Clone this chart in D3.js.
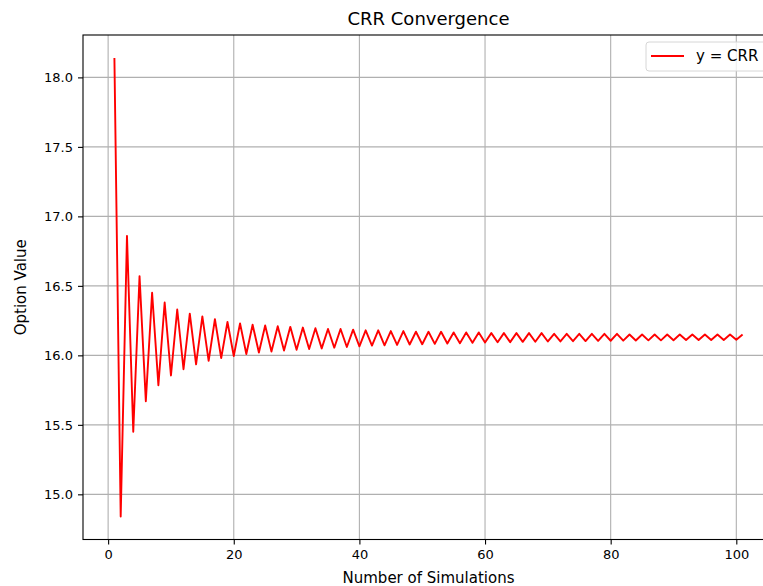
<!DOCTYPE html>
<html>
<head>
<meta charset="utf-8">
<script src="https://cdn.jsdelivr.net/npm/d3@7"></script>
<style>
  html, body { margin: 0; padding: 0; background: #fff; overflow: hidden; }
  svg { display: block; }
  text { font-family: "DejaVu Sans", sans-serif; }
</style>
</head>
<body>
<svg id="chart" width="763" height="586"></svg>
<script>
// Number of steps (simulations)
const steps = d3.range(1, 102);
// Option values (odd steps high, even steps low)
const optionValues = [
  18.14, 14.84, 16.86, 15.45, 16.57, 15.67, 16.45, 15.785, 16.38, 15.855,
  16.33, 15.90, 16.30, 15.935, 16.28, 15.96, 16.26, 15.98, 16.24, 15.995,
  16.23, 16.01, 16.22, 16.02, 16.215, 16.027, 16.21, 16.035, 16.205, 16.04,
  16.20, 16.045, 16.195, 16.05, 16.19, 16.055, 16.19, 16.06, 16.185, 16.065,
  16.18, 16.07, 16.18, 16.072, 16.175, 16.075, 16.175, 16.078, 16.17, 16.08,
  16.17, 16.083, 16.17, 16.085, 16.165, 16.087, 16.165, 16.09, 16.165, 16.092,
  16.16, 16.094, 16.16, 16.095, 16.16, 16.097, 16.16, 16.098, 16.16, 16.10,
  16.155, 16.10, 16.155, 16.102, 16.155, 16.103, 16.155, 16.104, 16.155, 16.105,
  16.155, 16.106, 16.15, 16.107, 16.15, 16.108, 16.15, 16.108, 16.15, 16.109,
  16.15, 16.11, 16.15, 16.11, 16.15, 16.11, 16.15, 16.111, 16.15, 16.112,
  16.15
];
const xTicks = [0, 20, 40, 60, 80, 100];
const yTicks = [15.0, 15.5, 16.0, 16.5, 17.0, 17.5, 18.0];
const seriesLabel = "y = CRR";
const titleText = "CRR Convergence";
const xLabel = "Number of Simulations";
const yLabel = "Option Value";

const data = steps.map((s, i) => ({ x: s, y: optionValues[i] }));

const svg = d3.select("#chart");
const pLeft = 83, pRight = 774, pTop = 35, pBottom = 539.5;

const xPad = (d3.max(steps) - d3.min(steps)) * 0.05;
const x = d3.scaleLinear()
  .domain([d3.min(steps) - xPad, d3.max(steps) + xPad])
  .range([pLeft, pRight]);
const [ymin, ymax] = d3.extent(optionValues);
const yPad = (ymax - ymin) * 0.05;
const y = d3.scaleLinear()
  .domain([ymin - yPad, ymax + yPad])
  .range([pBottom, pTop]);

// grid
const g = svg.append("g");
g.selectAll("line.vg").data(xTicks).enter().append("line")
  .attr("x1", d => x(d)).attr("x2", d => x(d))
  .attr("y1", pTop).attr("y2", pBottom)
  .attr("stroke", "#b0b0b0").attr("stroke-width", 1.1);
g.selectAll("line.hg").data(yTicks).enter().append("line")
  .attr("x1", pLeft).attr("x2", pRight)
  .attr("y1", d => y(d)).attr("y2", d => y(d))
  .attr("stroke", "#b0b0b0").attr("stroke-width", 1.1);

// line
const line = d3.line().x(d => x(d.x)).y(d => y(d.y));
svg.append("path").datum(data)
  .attr("d", line)
  .attr("fill", "none")
  .attr("stroke", "#ff0000")
  .attr("stroke-width", 1.9)
  .attr("stroke-linejoin", "round");

// axes
const fs = 13;
const lfs = 15;
const xAxis = d3.axisBottom(x).tickValues(xTicks).tickSize(5).tickPadding(5).tickFormat(d3.format("d"));
const yAxis = d3.axisLeft(y).tickValues(yTicks).tickSize(5).tickPadding(5).tickFormat(d3.format(".1f"));
const gx = svg.append("g").attr("transform", `translate(0,${pBottom})`).call(xAxis);
const gy = svg.append("g").attr("transform", `translate(${pLeft},0)`).call(yAxis);
[gx, gy].forEach(a => {
  a.select(".domain").remove();
  a.selectAll(".tick line").attr("stroke", "#000").attr("stroke-width", 1.1);
  a.selectAll(".tick text").attr("fill", "#000").style("font-size", fs + "px").style("font-family", "DejaVu Sans");
});

// spines
svg.append("rect")
  .attr("x", pLeft).attr("y", pTop)
  .attr("width", pRight - pLeft).attr("height", pBottom - pTop)
  .attr("fill", "none").attr("stroke", "#000").attr("stroke-width", 1.1);

// title & labels
svg.append("text").attr("x", (pLeft + pRight) / 2).attr("y", 25)
  .attr("text-anchor", "middle").style("font-size", "18px").text(titleText);
svg.append("text").attr("x", (pLeft + pRight) / 2).attr("y", 583)
  .attr("text-anchor", "middle").style("font-size", lfs + "px").text(xLabel);
svg.append("text")
  .attr("transform", `translate(26,${(pTop + pBottom) / 2}) rotate(-90)`)
  .attr("text-anchor", "middle").style("font-size", lfs + "px").text(yLabel);

// legend
const lg = svg.append("g");
lg.append("rect").attr("x", 646).attr("y", 42).attr("width", 122).attr("height", 29)
  .attr("rx", 3).attr("fill", "#fff").attr("fill-opacity", 0.8)
  .attr("stroke", "#d6d6d6").attr("stroke-width", 1);
lg.append("line").attr("x1", 651).attr("x2", 684).attr("y1", 56).attr("y2", 56)
  .attr("stroke", "#ff0000").attr("stroke-width", 2);
lg.append("text").attr("x", 696).attr("y", 61).style("font-size", lfs + "px").text(seriesLabel);
</script>
</body>
</html>
